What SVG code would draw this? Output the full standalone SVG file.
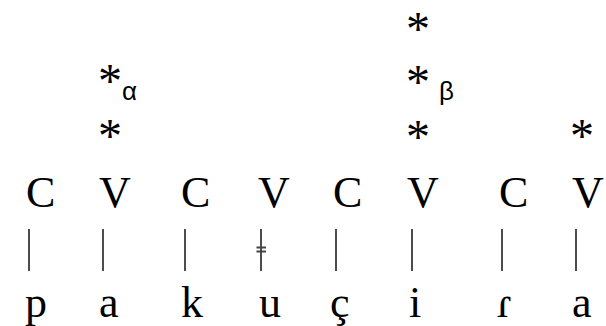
<svg xmlns="http://www.w3.org/2000/svg" width="606" height="326" viewBox="0 0 606 326">
<style>
.t{font-family:"Liberation Serif","Times New Roman",serif;font-size:44px;fill:#000}
.s{font-family:"Liberation Serif","Times New Roman",serif;font-size:48px;fill:#000}
.g{font-family:"Liberation Sans",Arial,sans-serif;font-size:26px;fill:#000}
.l{stroke:#444;stroke-width:1.9;fill:none}
</style>
<rect width="606" height="326" fill="#fff"/>
<g id="grid">
<g id="stars">
<text class="s" x="98" y="97">*</text>
<text class="s" x="98" y="152">*</text>
<text class="s" x="406" y="45">*</text>
<text class="s" x="406" y="98">*</text>
<text class="s" x="406" y="153">*</text>
<text class="s" x="570" y="152">*</text>
<text class="g" x="122" y="100">α</text>
<text class="g" x="439" y="100">β</text>
</g>
<g id="skeleton">
<text class="t" x="26" y="207">C</text>
<text class="t" x="99" y="207">V</text>
<text class="t" x="181" y="207">C</text>
<text class="t" x="258" y="207">V</text>
<text class="t" x="333" y="207">C</text>
<text class="t" x="407" y="207">V</text>
<text class="t" x="499" y="207">C</text>
<text class="t" x="572" y="207">V</text>
</g>
<g id="connectors">
<path class="l" d="M29 229V271M103 229V271M185 229V271M261 229V271M336 229V271M412 229V271M502 229V271M576 229V271"/>
<path class="l" d="M256.5 247.5H266M256.5 251.5H266" stroke-width="1.6"/>
</g>
<g id="segments">
<text class="t" x="25" y="317">p</text>
<text class="t" x="99" y="317">a</text>
<text class="t" x="181" y="317">k</text>
<text class="t" x="259" y="317">u</text>
<text class="t" x="330" y="317">ç</text>
<text class="t" x="409" y="317">i</text>
<text class="t" x="497" y="317">ɾ</text>
<text class="t" x="572" y="317">a</text>
</g>
</g>
</svg>
